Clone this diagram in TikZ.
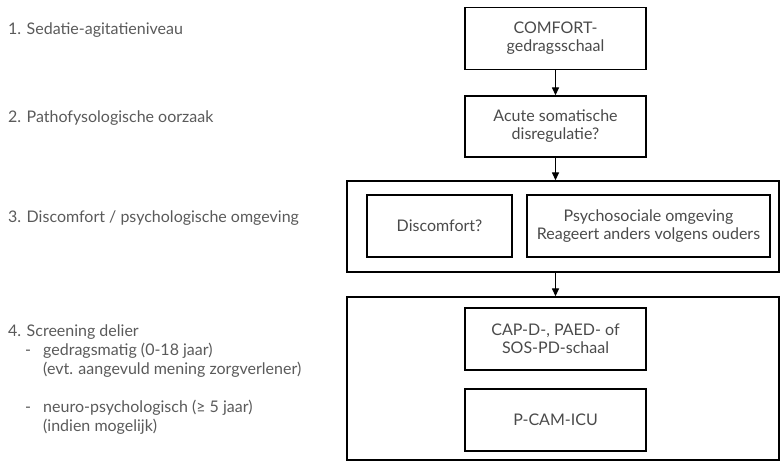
\documentclass[tikz,border=0pt]{standalone}
\usepackage{fontspec}
\setmainfont{Lato}
\usetikzlibrary{arrows.meta}

\definecolor{tekst}{HTML}{4A4A4A}
\definecolor{zij}{HTML}{5A5A5A}

\begin{document}
\begin{tikzpicture}[x=1pt,y=-1pt,
    box/.style={draw=black,line width=1.3pt,minimum width=181pt,minimum height=62pt,
      align=center,text=tekst,font=\fontsize{16}{18}\selectfont,inner sep=2pt},
    kader/.style={draw=black,line width=1.3pt,minimum width=432pt,inner sep=0pt},
    stap/.style={anchor=west,text=zij,font=\fontsize{16}{19}\selectfont,inner sep=0pt,align=left},
    pijl/.style={-{Triangle[length=8pt,width=7pt]},line width=1.3pt}]

      \useasboundingbox (0,0) rectangle (782,462);

      % linkerkolom
      \node[stap] (s1) at (8,30){1. Sedatie-agitatieniveau};
      \node[stap] (s2) at (8,118){2. Pathofysologische oorzaak};
      \node[stap] (s3) at (8,218){3. Discomfort / psychologische omgeving};
      \node[stap,anchor=north west] (s4) at (8,325){4. Screening delier\\
        \hspace*{17pt}\makebox[18pt][l]{-}gedragsmatig (0-18 jaar)\\
        \hspace*{35pt}(evt. aangevuld mening zorgverlener)\\[19pt]
        \hspace*{17pt}\makebox[18pt][l]{-}neuro-psychologisch (≥ 5 jaar)\\
        \hspace*{35pt}(indien mogelijk)};

      % stroomschema
      \node[box] (comfort) at (555.5,38.5){COMFORT-\\gedragsschaal};
      \node[box,minimum height=61pt] (acute) at (555.5,126.5){Acute somatische\\disregulatie?};

      \node[kader,minimum height=91pt] (kader3) at (563,226.5){};
      \node[box,minimum width=145pt] (disc) at (439.5,226){Discomfort?};
      \node[box,minimum width=243pt] (psych) at (648.5,226){Psychosociale omgeving\\Reageert anders volgens ouders};

      \node[kader,minimum height=163pt] (kader4) at (563,378.5){};
      \node[box] (cap) at (555.5,339){CAP-D-, PAED- of\\SOS-PD-schaal};
      \node[box] (pcam) at (555.5,420){P-CAM-ICU};

      \draw[pijl] (comfort) -- (acute);
      \draw[pijl] (acute) -- (acute.south |- kader3.north);
      \draw[pijl] (acute.south |- kader3.south) -- (acute.south |- kader4.north);
    \end{tikzpicture}
\end{document}
